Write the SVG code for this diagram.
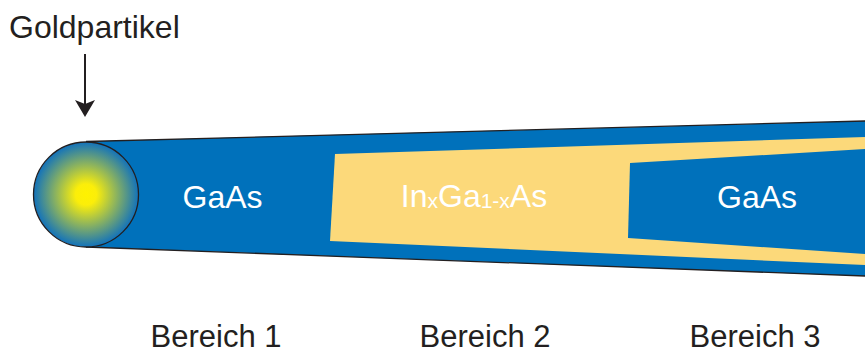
<svg xmlns="http://www.w3.org/2000/svg" width="865" height="354" viewBox="0 0 865 354">
  <defs>
    <radialGradient id="goldGlow" cx="0.5" cy="0.5" r="0.5">
      <stop offset="0" stop-color="#fff200"/>
      <stop offset="0.2" stop-color="#fbee0a"/>
      <stop offset="1" stop-color="#1272bb"/>
    </radialGradient>
    <style>
      .label { font-family: "Liberation Sans", Arial, sans-serif; font-size: 32px; fill: #231f20; }
      .region { font-size: 31px; text-anchor: middle; }
      .inner { font-family: "Liberation Sans", Arial, sans-serif; font-size: 32px; fill: #ffffff; text-anchor: middle; }
      .sub { font-size: 21px; }
      .blue { fill: #0071bb; }
      .yellow { fill: #fcd97a; }
      .edge { stroke: #231f20; stroke-width: 1.3; fill: none; }
    </style>
  </defs>

  <!-- nanowire body -->
  <g id="nanowire">
    <polygon class="blue" points="86,141.5 865,121 865,276 86,247"/>
    <line class="edge" x1="86" y1="141.5" x2="865" y2="121"/>
    <line class="edge" x1="86" y1="247" x2="865" y2="276"/>
  </g>

  <!-- InGaAs segment -->
  <g id="ingaas-segment">
    <polygon class="yellow" points="335,154 865,137 865,265 330,241"/>
  </g>

  <!-- second GaAs segment -->
  <g id="gaas-segment-2">
    <polygon class="blue" points="630,163 865,149 865,254 628,238"/>
  </g>

  <!-- gold particle at the tip -->
  <g id="gold-particle">
    <circle cx="86" cy="194.5" r="52.5" fill="url(#goldGlow)" stroke="#231f20" stroke-width="1.3"/>
  </g>

  <!-- segment labels -->
  <g id="segment-labels">
    <text class="inner" x="222.5" y="208">GaAs</text>
    <text class="inner" x="474" y="207">In<tspan class="sub" dy="1">x</tspan><tspan dy="-1">Ga</tspan><tspan class="sub" dy="1">1-x</tspan><tspan dy="-1">As</tspan></text>
    <text class="inner" x="757" y="208">GaAs</text>
  </g>

  <!-- annotation -->
  <g id="gold-label">
    <text class="label" x="9" y="38">Goldpartikel</text>
  </g>

  <g id="connectors">
    <line x1="85" y1="54" x2="85" y2="104" stroke="#231f20" stroke-width="2"/>
    <path d="M75,100 L85,104 L95,100 L85,117 Z" fill="#231f20"/>
  </g>

  <!-- region labels -->
  <g id="region-labels">
    <text class="label region" x="216" y="347">Bereich 1</text>
    <text class="label region" x="485" y="347">Bereich 2</text>
    <text class="label region" x="755" y="347">Bereich 3</text>
  </g>
</svg>
